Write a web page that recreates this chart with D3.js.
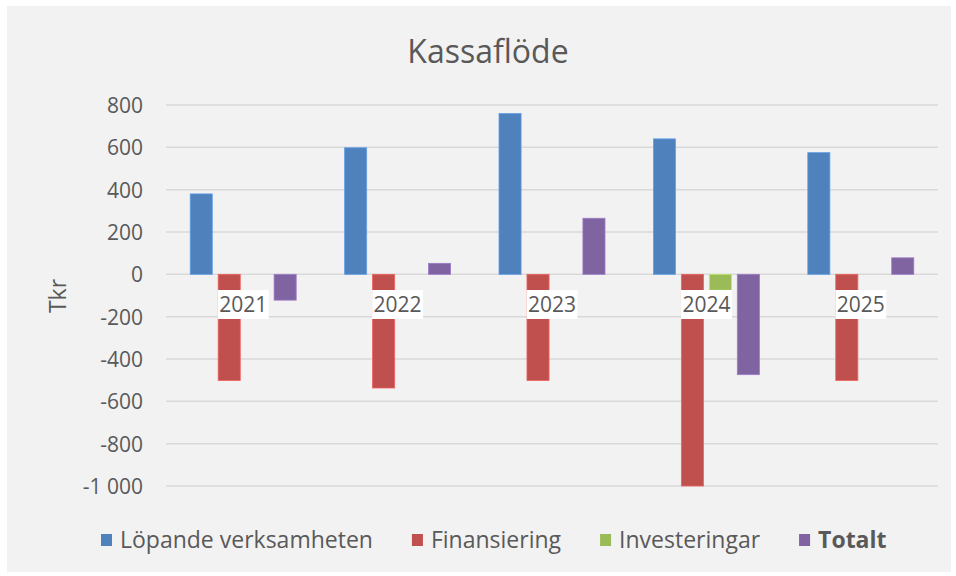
<!DOCTYPE html>
<html>
<head>
<meta charset="utf-8">
<script src="https://cdn.jsdelivr.net/npm/d3@7"></script>
<style>
  body { margin: 0; background: #ffffff; }
  text { font-family: "Open Sans", Lato, sans-serif; fill: #595959; }
</style>
</head>
<body>
<div id="chart"></div>
<script>
// data
var years = ['2021', '2022', '2023', '2024', '2025'];
var seriesNames = ['Löpande verksamheten', 'Finansiering', 'Investeringar', 'Totalt'];
var seriesColors = ['#4f81bd', '#c0504d', '#9bbb59', '#8064a2'];
var lopande = [380, 598, 760, 640, 575];
var finansiering = [-502, -537, -502, -1000, -502];
var investeringar = [0, 0, 0, -75, 0];
var totalt = [-122, 52, 265, -474, 78];
var tickValues = [-1000, -800, -600, -400, -200, 0, 200, 400, 600, 800];
var tickLabels = ['-1 000', '-800', '-600', '-400', '-200', '0', '200', '400', '600', '800'];

var allSeries = [lopande, finansiering, investeringar, totalt];

var svg = d3.select('#chart').append('svg')
  .attr('width', 956)
  .attr('height', 576);

// chart area background
svg.append('rect')
  .attr('x', 7).attr('y', 6)
  .attr('width', 944).attr('height', 566)
  .attr('fill', '#f2f2f2');

var y = d3.scaleLinear().domain([-1000, 800]).range([486, 105]);
var x0 = d3.scaleBand().domain(years).range([166, 938]);
var groupWidth = 106;
var x1 = d3.scaleBand().domain(seriesNames).range([0, groupWidth]).paddingInner(0.21);
var groupOffset = (x0.bandwidth() - groupWidth) / 2;

// title
svg.append('text')
  .attr('x', 488).attr('y', 63)
  .attr('text-anchor', 'middle')
  .style('font-size', '32px')
  .style('font-weight', 400)
  .text('Kassaflöde');

// y axis labels
var yAxis = d3.axisLeft(y)
  .tickValues(tickValues)
  .tickSize(0)
  .tickPadding(0)
  .tickFormat(function(d, i) { return tickLabels[i]; });

var gy = svg.append('g')
  .attr('transform', 'translate(143,0)')
  .call(yAxis);
gy.select('.domain').remove();
gy.selectAll('text')
  .attr('dy', '0.35em')
  .style('font-size', '21px')
  .style('font-family', '"Open Sans", sans-serif')
  .attr('fill', '#595959');

// gridlines
svg.append('g').selectAll('line')
  .data(tickValues)
  .join('line')
  .attr('x1', 166).attr('x2', 938)
  .attr('y1', function(d) { return y(d); })
  .attr('y2', function(d) { return y(d); })
  .attr('stroke', '#d9d9d9')
  .attr('stroke-width', 1.5);

// y axis title
svg.append('text')
  .attr('transform', 'translate(66,296) rotate(-90)')
  .attr('text-anchor', 'middle')
  .style('font-size', '23px')
  .text('Tkr');

// bars
var rows = [];
years.forEach(function(yr, i) {
  seriesNames.forEach(function(s, j) {
    rows.push({ year: yr, series: s, value: allSeries[j][i], color: seriesColors[j] });
  });
});

svg.append('g').selectAll('rect')
  .data(rows.filter(function(d) { return d.value !== 0; }))
  .join('rect')
  .attr('x', function(d) { return x0(d.year) + groupOffset + x1(d.series); })
  .attr('width', x1.bandwidth())
  .attr('y', function(d) { return Math.min(y(d.value), y(0)); })
  .attr('height', function(d) { return Math.abs(y(d.value) - y(0)); })
  .attr('fill', function(d) { return d.color; })
  .attr('stroke', function(d) { return d3.color(d.color).brighter(0.6); })
  .attr('stroke-width', 0.8);

// category labels with white boxes
var cat = svg.append('g').selectAll('g')
  .data(years)
  .join('g')
  .attr('transform', function(d) { return 'translate(' + (x0(d) + x0.bandwidth() / 2) + ',305)'; });

cat.append('rect')
  .attr('x', -25.5).attr('y', -15)
  .attr('width', 51).attr('height', 29)
  .attr('fill', '#ffffff');

cat.append('text')
  .attr('text-anchor', 'middle')
  .attr('dy', '0.35em')
  .style('font-size', '21px')
  .text(function(d) { return d; });

// legend
var legend = svg.append('g').attr('transform', 'translate(101,540)');
var lx = 0;
seriesNames.forEach(function(s, j) {
  var item = legend.append('g').attr('transform', 'translate(' + lx + ',0)');
  item.append('rect')
    .attr('x', 0).attr('y', -6)
    .attr('width', 11).attr('height', 12)
    .attr('fill', seriesColors[j]);
  var t = item.append('text')
    .attr('x', 19)
    .attr('dy', '0.35em')
    .style('font-size', '23px')
    .style('font-weight', s === 'Totalt' ? 700 : 400)
    .text(s);
  lx += 19 + t.node().getComputedTextLength() + 39;
});
</script>
</body>
</html>
